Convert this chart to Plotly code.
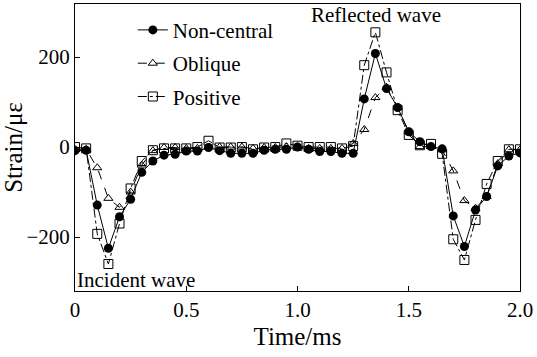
import plotly.graph_objects as go

time_ms = [round(i * 0.05, 2) for i in range(41)]

non_central = [-8, -7, -129, -225, -155, -116, -56, -31, -18, -16, -9, -9, -1, -8, -14, -14, -14, -7, -5, -5,
               0, -5, -10, -10, -14, -14, 107, 208, 130, 88, 34, 12, 1, -4, -153, -221, -140, -110, -42, -20, -13]
oblique = [-5, -5, -46, -114, -134, -100, -40, -8, -1, -1, -3, -3, 0, 0, 0, 0, -3, -1, -1, 1,
           1, -3, -3, -3, -3, 8, 39, 110, 133, 88, 34, 1, 1, -6, -53, -119, -136, -110, -37, -6, -6]
positive = [0, -3, -193, -260, -170, -92, -31, -7, -3, -3, -3, 0, 14, -1, -1, 0, -5, -1, 0, 8,
            3, 0, 0, 0, -3, 2, 182, 255, 166, 82, 27, 4, 7, -15, -205, -251, -162, -82, -31, -5, -5]

series_names = ["Non-central", "Oblique", "Positive"]
x_ticks = [0, 0.5, 1.0, 1.5, 2.0]
x_ticklabels = ["0", "0.5", "1.0", "1.5", "2.0"]
y_ticks = [-200, 0, 200]

FONT = "Liberation Serif, Times New Roman, serif"
FS = 21

fig = go.Figure()
fig.add_trace(go.Scatter(x=time_ms, y=non_central, name=series_names[0], mode="lines+markers",
                         line=dict(color="black", width=1, dash="solid"),
                         marker=dict(symbol="circle", size=9, color="black"), legendgroup="a"))
fig.add_trace(go.Scatter(x=time_ms, y=oblique, name=series_names[1], mode="lines+markers",
                         line=dict(color="black", width=1, dash="dash"),
                         marker=dict(symbol="triangle-up-open", size=8, color="black", line=dict(width=1)),
                         legendgroup="b"))
fig.add_trace(go.Scatter(x=time_ms, y=positive, name=series_names[2], mode="lines+markers",
                         line=dict(color="black", width=1, dash="dashdot"),
                         marker=dict(symbol="square-open", size=9, color="black", line=dict(width=1)),
                         legendgroup="c"))

fig.add_annotation(x=1.355, y=1.0, xref="x", yref="paper", text="Reflected wave", showarrow=False,
                   yanchor="top", xanchor="center", font=dict(family=FONT, size=FS, color="black"), yshift=3)
fig.add_annotation(x=0.0, y=0.0, xref="paper", yref="paper", text="Incident wave", showarrow=False,
                   yanchor="bottom", xanchor="left", font=dict(family=FONT, size=FS, color="black"), yshift=-3, xshift=0)

fig.update_layout(
    width=537, height=357,
    margin=dict(l=75, r=17, t=4, b=66),
    paper_bgcolor="white", plot_bgcolor="white",
    font=dict(family=FONT, size=FS, color="black"),
    showlegend=True,
    legend=dict(x=0.13, y=0.98, xanchor="left", yanchor="top", bgcolor="rgba(0,0,0,0)",
                font=dict(family=FONT, size=FS), tracegroupgap=3, traceorder="grouped"),
    xaxis=dict(range=[0, 2.0], tickvals=x_ticks, ticktext=x_ticklabels, ticks="inside", ticklen=5,
               tickcolor="black", showline=True, linecolor="black", linewidth=1, mirror=True,
               showgrid=False, zeroline=False, title=dict(text="Time/ms", standoff=6),
               tickfont=dict(family=FONT, size=FS)),
    yaxis=dict(range=[-320, 318], tickvals=y_ticks, ticks="inside", ticklen=5,
               tickcolor="black", showline=True, linecolor="black", linewidth=1, mirror=True,
               showgrid=False, zeroline=False, title=dict(text="Strain/με", standoff=6),
               tickfont=dict(family=FONT, size=FS)),
)

fig.write_html("out.html")
